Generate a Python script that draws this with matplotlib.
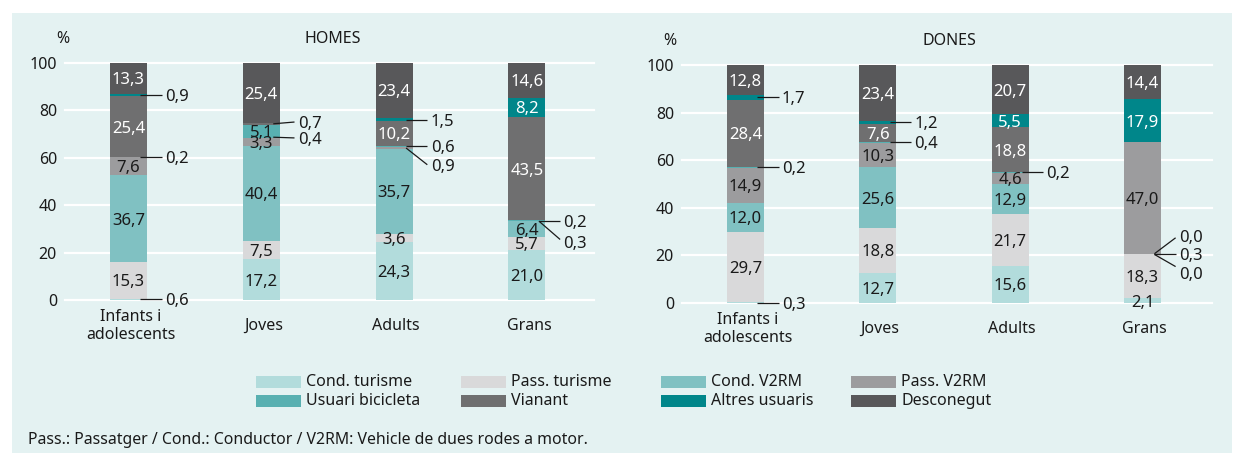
import matplotlib
matplotlib.use('Agg')
import matplotlib.pyplot as plt
import numpy as np
from matplotlib.patches import Rectangle
from matplotlib.colors import to_rgb

plt.rcParams['font.family'] = ['Noto Sans', 'DejaVu Sans']

# ---------------- data ----------------
categories = ['Infants i\nadolescents', 'Joves', 'Adults', 'Grans']
series_names = ['Cond. turisme', 'Pass. turisme', 'Cond. V2RM', 'Pass. V2RM',
                'Usuari bicicleta', 'Vianant', 'Altres usuaris', 'Desconegut']

homes_cond_turisme = [0.6, 17.2, 24.3, 21.0]
homes_pass_turisme = [15.3, 7.5, 3.6, 5.7]
homes_cond_v2rm = [36.7, 40.4, 35.7, 6.4]
homes_pass_v2rm = [7.6, 3.3, 0.9, 0.3]
homes_bicicleta = [0.2, 0.4, 0.6, 0.2]
homes_vianant = [25.4, 5.1, 10.2, 43.5]
homes_altres = [0.9, 0.7, 1.5, 8.2]
homes_desconegut = [13.3, 25.4, 23.4, 14.6]

dones_cond_turisme = [0.3, 12.7, 15.6, 2.1]
dones_pass_turisme = [29.7, 18.8, 21.7, 18.3]
dones_cond_v2rm = [12.0, 25.6, 12.9, 0.0]
dones_pass_v2rm = [14.9, 10.3, 4.6, 0.3]
dones_bicicleta = [0.2, 0.4, 0.2, 0.0]
dones_vianant = [28.4, 7.6, 18.8, 47.0]
dones_altres = [1.7, 1.2, 5.5, 17.9]
dones_desconegut = [12.8, 23.4, 20.7, 14.4]

homes = [homes_cond_turisme, homes_pass_turisme, homes_cond_v2rm, homes_pass_v2rm,
         homes_bicicleta, homes_vianant, homes_altres, homes_desconegut]
dones = [dones_cond_turisme, dones_pass_turisme, dones_cond_v2rm, dones_pass_v2rm,
         dones_bicicleta, dones_vianant, dones_altres, dones_desconegut]

# ---------------- style ----------------
series_colors = ['#b2dcdc', '#d9d9da', '#80c1c2', '#9c9c9e',
                 '#58b0b1', '#6f6f70', '#00868a', '#58585a']
BG = '#e4f2f2'
TXT = '#1a1a1a'

# colour of some segments as drawn in the reference: (category, series) -> series colour index
homes_overrides = {(1, 5): 4, (1, 6): 5}
dones_overrides = {(3, 5): 3}

# leader labels: (category, series, line end y, label y); None -> horizontal at segment centre
homes_leaders = [(0, 0, None, None), (0, 4, None, None), (0, 6, None, None),
                 (1, 4, 68.3, 68.3), (1, 6, 75.0, 75.0),
                 (2, 3, 57.0, 57.0), (2, 4, None, None), (2, 6, None, None),
                 (3, 3, 25.5, 24.5), (3, 4, None, None)]
dones_leaders = [(0, 0, None, None), (0, 4, None, None), (0, 6, None, None),
                 (1, 4, None, None), (1, 6, None, None),
                 (2, 4, None, None),
                 (3, 2, 15.3, 12.5), (3, 3, None, None), (3, 4, 27.4, 28.2)]

W, H = 1234, 453


def fx(px):
    return px / W


def fy(py):
    return 1 - py / H


def lum(c):
    r, g, b = to_rgb(c)
    return 0.2126 * r + 0.7152 * g + 0.0722 * b


def fmt(v):
    return f"{v:.1f}".replace('.', ',')


fig = plt.figure(figsize=(W / 100, H / 100), dpi=100)
fig.patch.set_facecolor('white')
fig.patches.append(Rectangle((fx(12), 0), fx(1232) - fx(12), fy(13), transform=fig.transFigure,
                             facecolor=BG, edgecolor='none', zorder=-10))

BAR_W = 0.279


def draw_panel(rect, data, leaders, overrides, xlim, title, title_xy, pct_xy):
    ax = fig.add_axes(rect)
    ax.set_facecolor('none')
    ax.set_xlim(*xlim)
    ax.set_ylim(0, 100)
    ax.set_yticks([0, 20, 40, 60, 80, 100])
    ax.set_xticks([])
    ax.tick_params(axis='y', length=0, pad=5.8, labelsize=11.5, labelcolor=TXT)
    for s in ax.spines.values():
        s.set_visible(False)
    ax.grid(axis='y', color='white', linewidth=1.6, zorder=0)
    ax.set_axisbelow(True)
    for gl in ax.get_ygridlines():
        gl.set_clip_on(False)

    x = np.arange(len(categories))
    bottom = np.zeros(len(categories))
    bottoms = []
    for si, vals in enumerate(data):
        vals = np.array(vals, dtype=float)
        cols = [series_colors[overrides.get((ci, si), si)] for ci in range(len(x))]
        ax.bar(x, vals, BAR_W, bottom=bottom, color=cols, linewidth=0, zorder=2)
        for ci in range(len(x)):
            if vals[ci] >= 2:
                tc = 'white' if lum(cols[ci]) < 0.5 else TXT
                ax.text(ci, bottom[ci] + vals[ci] / 2, fmt(vals[ci]), ha='center',
                        va='center_baseline', color=tc, fontsize=12, zorder=3)
        bottoms.append(bottom.copy())
        bottom = bottom + vals

    for ci, si, end_y, lab_y in leaders:
        anchor = bottoms[si][ci] + data[si][ci] / 2
        ey = anchor if end_y is None else end_y
        ly = anchor if lab_y is None else lab_y
        ax.plot([ci + 0.09, ci + 0.25], [anchor, ey], color=TXT, linewidth=0.9,
                zorder=4, clip_on=False, solid_capstyle='butt')
        ax.text(ci + 0.275, ly, fmt(data[si][ci]), ha='left', va='center_baseline',
                fontsize=12, color=TXT, zorder=4, clip_on=False)

    for ci, lab in enumerate(categories):
        ax.annotate(lab, xy=(ci + 0.015, 0), xycoords=('data', 'axes fraction'),
                    xytext=(0, -26 * 0.72), textcoords='offset points',
                    ha='center', va='center', fontsize=11.5, color=TXT,
                    linespacing=1.2)

    fig.text(fx(title_xy[0]), fy(title_xy[1]), title, ha='center', va='center',
             fontsize=11.5, color=TXT)
    fig.text(fx(pct_xy[0]), fy(pct_xy[1]), '%', ha='center', va='center',
             fontsize=11.5, color=TXT)
    return ax


draw_panel([fx(65), fy(300), fx(594) - fx(65), fy(62.7) - fy(300)], homes, homes_leaders,
           homes_overrides, (-0.478, 3.505), 'HOMES', (333, 39), (63, 39))
draw_panel([fx(682), fy(303), fx(1212) - fx(682), fy(65) - fy(303)], dones, dones_leaders,
           dones_overrides, (-0.48, 3.525), 'DONES', (949, 41), (670, 41))

# ---------------- legend (drawn manually) ----------------
legend_rows = [[0, 1, 2, 3], [4, 5, 6, 7]]
col_px = [256, 461, 661, 851]
row_py = [382, 401]
for r, row in enumerate(legend_rows):
    for c, si in enumerate(row):
        fig.patches.append(Rectangle((fx(col_px[c]), fy(row_py[r] + 6)), 45 / W, 12 / H,
                                     transform=fig.transFigure, facecolor=series_colors[si],
                                     edgecolor='none'))
        fig.text(fx(col_px[c] + 50), fy(row_py[r]), series_names[si], ha='left',
                 va='center', fontsize=11.5, color=TXT)

fig.text(fx(28), fy(440), 'Pass.: Passatger / Cond.: Conductor / V2RM: Vehicle de dues rodes a motor.',
         ha='left', va='center', fontsize=11.4, color=TXT)

fig.savefig('out.png', dpi=100, facecolor='white')
